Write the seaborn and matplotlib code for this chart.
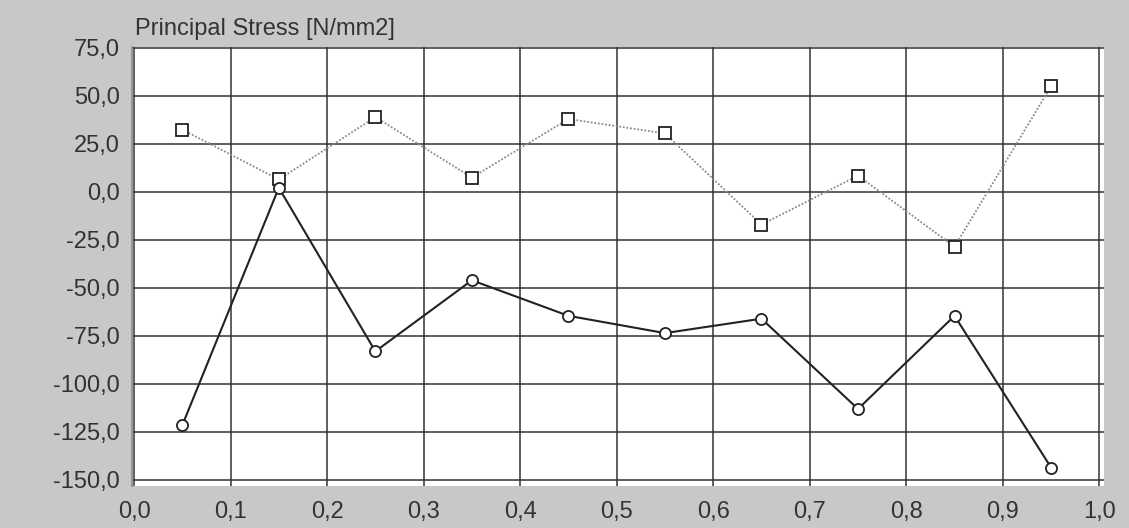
import matplotlib
matplotlib.use("Agg")
import matplotlib.pyplot as plt
import seaborn as sns
import pandas as pd
from matplotlib.ticker import FuncFormatter, MultipleLocator

x_pos = [0.05, 0.15, 0.25, 0.35, 0.45, 0.55, 0.65, 0.75, 0.85, 0.95]
stress_max = [32.5, 6.5, 39.0, 7.5, 38.0, 30.5, -17.0, 8.5, -28.5, 55.0]
stress_min = [-121.5, 2.2, -83.0, -46.0, -64.5, -73.5, -66.0, -113.0, -64.5, -143.5]
title_text = "Principal Stress [N/mm2]"

sns.set_theme(style="white")
plt.rcParams['font.family'] = ['Liberation Sans', 'DejaVu Sans']

fig = plt.figure(figsize=(11.29, 5.28), dpi=100, facecolor="#c8c8c8")
ax = fig.add_axes([0.117, 0.08, 0.861, 0.831])
ax.set_facecolor("white")

df_max = pd.DataFrame({"x": x_pos, "y": stress_max})
df_min = pd.DataFrame({"x": x_pos, "y": stress_min})

sns.lineplot(data=df_max, x="x", y="y", ax=ax, color="#8a8a8a", linestyle=(0, (1, 1)),
             linewidth=1.3, marker="s", markersize=8, markerfacecolor="white",
             markeredgecolor="#222222", markeredgewidth=1.3, zorder=3)
sns.lineplot(data=df_min, x="x", y="y", ax=ax, color="#222222", linestyle="-",
             linewidth=1.5, marker="o", markersize=8, markerfacecolor="white",
             markeredgecolor="#222222", markeredgewidth=1.3, zorder=3)

ax.set_xlim(-0.002, 1.005)
ax.set_ylim(-153, 75.5)
ax.xaxis.set_major_locator(MultipleLocator(0.1))
ax.yaxis.set_major_locator(MultipleLocator(25))
ax.xaxis.set_major_formatter(FuncFormatter(lambda v, p: f"{v:.1f}".replace(".", ",")))
ax.yaxis.set_major_formatter(FuncFormatter(lambda v, p: f"{v:.1f}".replace(".", ",")))

ax.grid(True, color="#333333", linewidth=1.1)
ax.set_axisbelow(True)
for side in ["top", "right", "bottom"]:
    ax.spines[side].set_visible(False)
ax.spines["left"].set_color("#999999")
ax.spines["left"].set_linewidth(1.5)

ax.tick_params(axis="both", which="major", direction="out", length=7, width=2,
               color="#222222", labelsize=17, labelcolor="#333333", pad=2)
ax.tick_params(axis="x", pad=4)
ax.set_xlabel("")
ax.set_ylabel("")

fig.text(0.12, 0.925, title_text, fontsize=17, color="#333333", ha="left", va="bottom")

fig.savefig("out.png", dpi=100, facecolor=fig.get_facecolor())
